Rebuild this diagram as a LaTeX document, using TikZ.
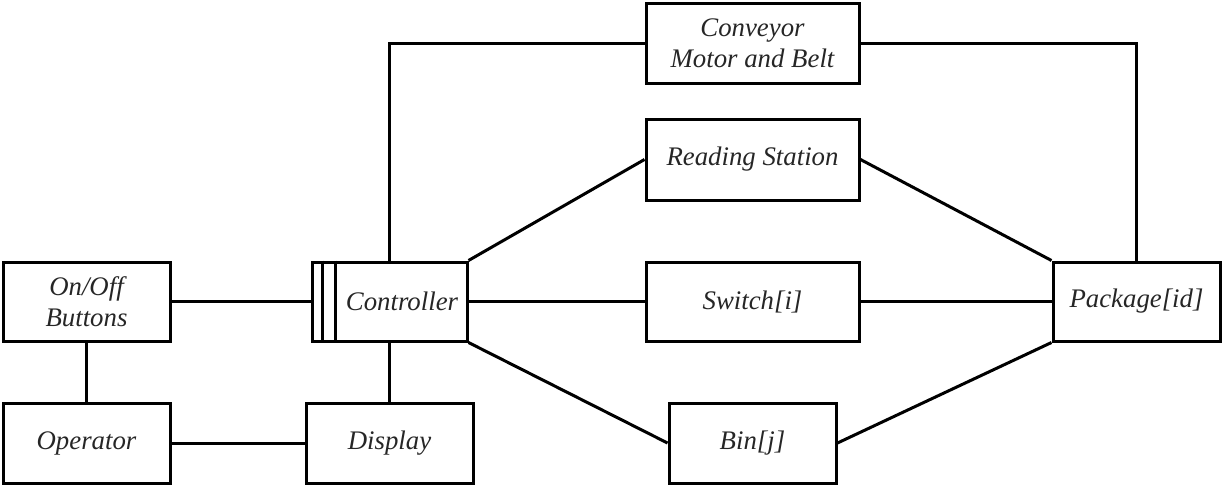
\documentclass[tikz,border=0pt]{standalone}
\usepackage{fontspec}
\setmainfont{Liberation Serif}
\begin{document}
\begin{tikzpicture}[x=1pt,y=-1pt,
  blk/.style={draw,line width=3pt,rectangle,inner sep=0pt,align=center,
    font=\fontsize{26.8}{31}\selectfont\itshape,text=black!85},
  wire/.style={line width=3pt}]
\useasboundingbox (0,0) rectangle (1224,490);
\node[blk,minimum width=213pt,minimum height=80pt] (conv) at (752.5,43) {Conveyor\\Motor and Belt};
\node[blk,minimum width=213pt,minimum height=81pt] (read) at (752.5,159.5) {Reading Station};
\node[blk,minimum width=167pt,minimum height=79pt] (onoff) at (86.5,301.5) {On/Off\\Buttons};
\node[blk,minimum width=155pt,minimum height=79pt] (ctrl) at (389.5,301.5) {};
\node[font=\fontsize{26.8}{31}\selectfont\itshape,text=black!85] (ctrltxt) at (402,301.5) {Controller};
\node[blk,minimum width=213pt,minimum height=79pt] (sw) at (752.5,301.5) {Switch[i]};
\node[blk,minimum width=167pt,minimum height=79pt] (pkg) at (1136.5,301.5) {Package[id]};
\node[blk,minimum width=167pt,minimum height=80pt] (oper) at (86.5,443) {Operator};
\node[blk,minimum width=167pt,minimum height=80pt] (disp) at (389.5,443) {Display};
\node[blk,minimum width=167pt,minimum height=80pt] (bin) at (752.5,443) {Bin[j]};
% controller inner bars
\draw[wire] ([xshift=12pt]ctrl.north west) -- ([xshift=12pt]ctrl.south west);
\draw[wire] ([xshift=25pt]ctrl.north west) -- ([xshift=25pt]ctrl.south west);
% connectors
\draw[wire] (ctrl.north) |- (conv.west);
\draw[wire] (conv.east) -| (pkg.north);
\draw[wire] (ctrl.north east) -- (read.west);
\draw[wire] (read.east) -- (pkg.north west);
\draw[wire] (ctrl.east) -- (sw.west);
\draw[wire] (sw.east) -- (pkg.west);
\draw[wire] (ctrl.south east) -- (bin.west);
\draw[wire] (bin.east) -- (pkg.south west);
\draw[wire] (onoff.east) -- (ctrl.west);
\draw[wire] (onoff.south) -- (oper.north);
\draw[wire] (oper.east) -- (disp.west);
\draw[wire] (ctrl.south) -- (disp.north);
\end{tikzpicture}
\end{document}
